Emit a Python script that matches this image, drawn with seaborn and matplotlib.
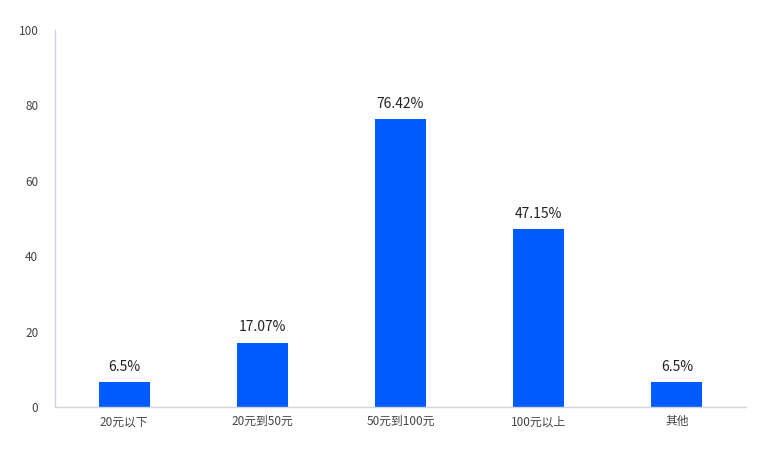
import matplotlib
matplotlib.use("Agg")
import matplotlib.pyplot as plt
import seaborn as sns
import pandas as pd

# data
categories = ["20元以下", "20元到50元", "50元到100元", "100元以上", "其他"]
values = [6.5, 17.07, 76.42, 47.15, 6.5]
labels = ["6.5%", "17.07%", "76.42%", "47.15%", "6.5%"]

sns.set_style("white")
plt.rcParams["font.family"] = ["Noto Sans CJK SC", "DejaVu Sans"]

df = pd.DataFrame({"cat": categories, "val": values})

fig = plt.figure(figsize=(7.66, 4.51), dpi=100)
ax = fig.add_axes([0.0718, 0.0976, 0.902, 0.836])

sns.barplot(data=df, x="cat", y="val", color="#005BFF", saturation=1,
            width=0.37, linewidth=0, ax=ax)

# value labels above the bars
for i, (v, lab) in enumerate(zip(values, labels)):
    ax.text(i, v + 2.2, lab, ha="center", va="bottom", fontsize=10, color="#222222")

ax.set_ylim(0, 100)
ax.set_xlim(-0.5, 4.5)
ax.set_yticks([0, 20, 40, 60, 80, 100])
ax.set_xlabel("")
ax.set_ylabel("")
ax.tick_params(axis="both", length=0, labelsize=8.5, labelcolor="#444444")
ax.tick_params(axis="y", pad=12)
ax.tick_params(axis="x", pad=6)

for side in ["top", "right"]:
    ax.spines[side].set_visible(False)
for side in ["left", "bottom"]:
    ax.spines[side].set_color("#d0d4dc")
    ax.spines[side].set_linewidth(1)

fig.savefig("out.png", dpi=100)
